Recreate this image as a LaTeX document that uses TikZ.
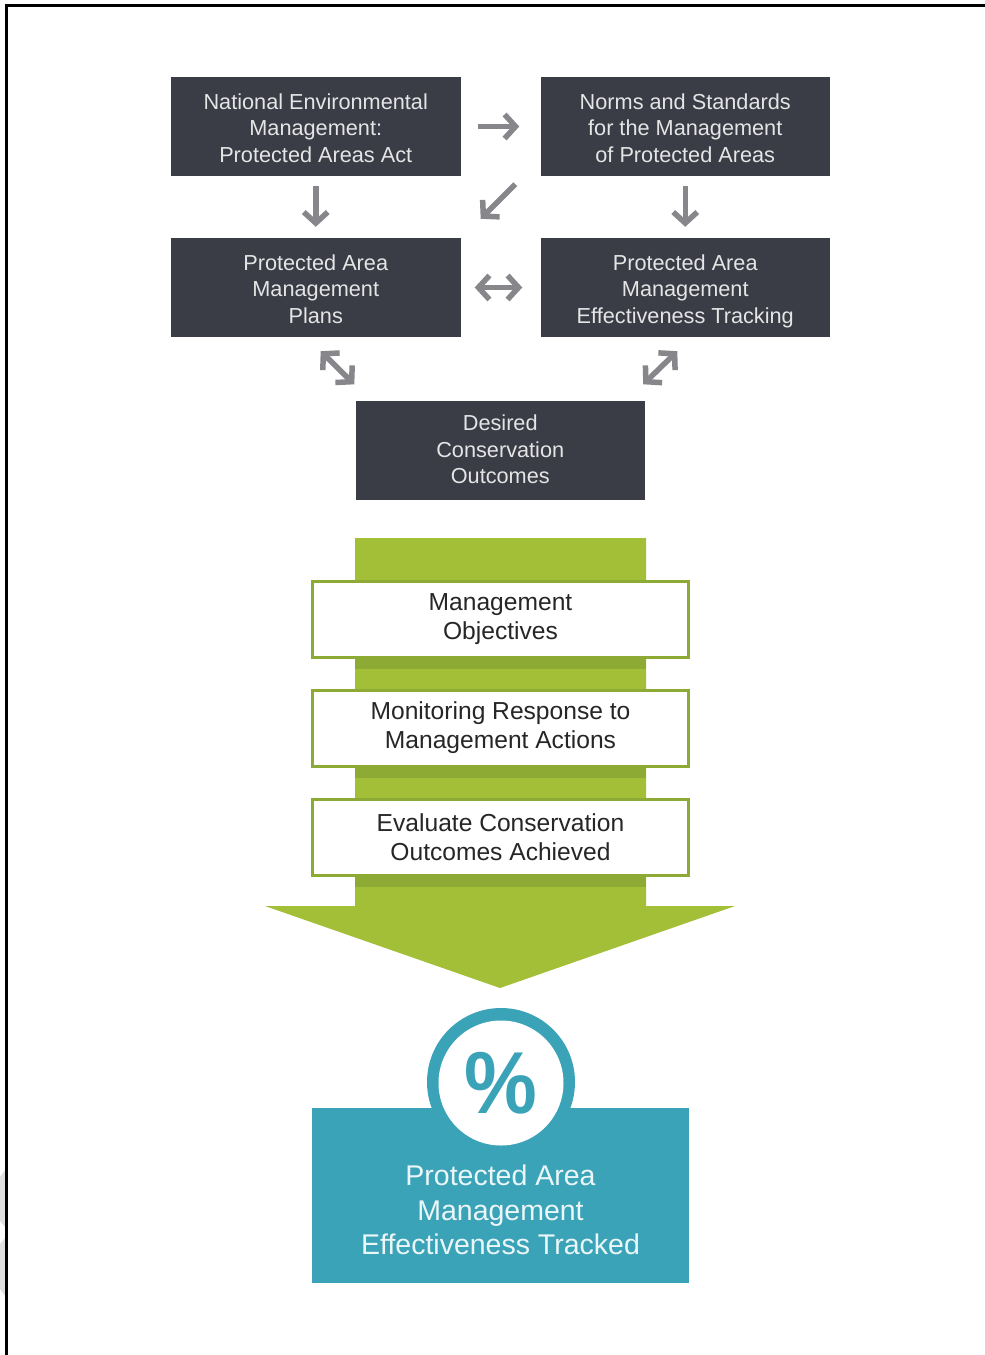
\documentclass[tikz,border=0pt]{standalone}
\usepackage{fontspec}
\setmainfont{Liberation Sans}
\usetikzlibrary{arrows.meta}
\definecolor{darkbox}{HTML}{3A3C46}
\definecolor{arrowgrey}{HTML}{87878B}
\definecolor{leaf}{HTML}{A3BF37}
\definecolor{leafdark}{HTML}{8DAA35}
\definecolor{teal}{HTML}{3BA3B8}
\newcommand{\lineprop}{\vphantom{Ágp}}
\newcommand{\toplow}{\rule{0pt}{1.06em}\lineprop}
\newcommand{\botlift}{\rule[-0.42em]{0pt}{0pt}\lineprop}
\tikzset{
  x=1pt,y=-1pt,
  darknode/.style={fill=darkbox,text=white!90!black,inner sep=0pt,minimum width=289.5pt,minimum height=99pt,align=center,font=\fontsize{21.7}{26.5}\selectfont},
  greennode/.style={fill=white,draw=leafdark,line width=3.5pt,text=black!85,inner sep=0pt,minimum width=376pt,minimum height=76pt,align=center,font=\fontsize{24.6}{29}\selectfont},
  flow/.style={draw=arrowgrey,line width=5.5pt,-{Straight Barb[length=11pt,width=24pt]}},
  flowboth/.style={draw=arrowgrey,line width=5.5pt,{Straight Barb[length=11pt,width=24pt]}-{Straight Barb[length=11pt,width=24pt]}},
}
\begin{document}
\begin{tikzpicture}
\useasboundingbox (0,0) rectangle (985,1355);
\fill[white] (0,0) rectangle (985,1355);
% scan edge
\fill[black!12] (5,1170) -- (0,1177) -- (0,1221) -- (5,1227) -- cycle;
\fill[black!12] (5,1238) -- (0,1244) -- (0,1289) -- (5,1296) -- cycle;
\draw[black,line width=3pt] (6.5,1355) -- (6.5,5.5) -- (985,5.5);
% dark boxes
\node[darknode] (nema) at (315.75,126.5) {\toplow National Environmental\\Management:\\\lineprop Protected Areas Act};
\node[darknode] (norms) at (685.25,126.5) {\toplow Norms and Standards\\for the Management\\\lineprop of Protected Areas};
\node[darknode] (plans) at (315.75,287.5) {\toplow Protected Area\\Management\\\lineprop Plans};
\node[darknode] (track) at (685.25,287.5) {\toplow Protected Area\\Management\\\lineprop Effectiveness Tracking};
\node[darknode] (desired) at (500.25,450) {\lineprop Desired\\Conservation\\\lineprop Outcomes};
% grey arrows
\draw[flow,shorten <=10pt,shorten >=11pt] (nema.south) -- (plans.north);
\draw[flow,shorten <=10pt,shorten >=11pt] (norms.south) -- (track.north);
\draw[flow,shorten <=17pt,shorten >=21pt] (nema.east) -- (norms.west);
\draw[flow] ([shift={(-25,8)}]norms.south west) -- ([shift={(20,-19)}]plans.north east);
\draw[flowboth,shorten <=14pt,shorten >=18pt] (plans.east) -- (track.west);
\draw[flowboth] ([shift={(-140,14)}]plans.south east) -- ([shift={(-1,-16)}]desired.north west);
\draw[flowboth] ([shift={(137,14)}]track.south west) -- ([shift={(-2,-16)}]desired.north east);
% green arrow
\fill[leaf] (355,538) -- (646,538) -- (646,906) -- (735,906) -- (500,988) -- (265,906) -- (355,906) -- cycle;
\fill[leafdark] (355,659) rectangle (646,669);
\fill[leafdark] (355,768) rectangle (646,778);
\fill[leafdark] (355,877) rectangle (646,887);
\node[greennode] (obj) at (500.5,619.5) {\lineprop Management\\\botlift Objectives};
\node[greennode] (mon) at (500.5,728.5) {\lineprop Monitoring Response to\\\botlift Management Actions};
\node[greennode] (eval) at (500.5,837.5) {\lineprop Evaluate Conservation\\\rule[-0.2em]{0pt}{0pt}\lineprop Outcomes Achieved};
% teal result
\fill[teal] (312,1108) rectangle (689,1283);
\node[fill=teal,circle,minimum size=148pt,inner sep=0pt] (ring) at (501,1082) {};
\node[fill=white,circle,minimum size=125pt,inner sep=0pt] (pct) at (501,1083) {};
\node[text=teal,inner sep=0pt,xscale=0.93,font=\fontsize{88}{88}\bfseries\selectfont] (pctsign) at (500.5,1083) {\%};
\node[text=white!90!teal,align=center,inner sep=0pt,font=\fontsize{28.5}{34.5}\selectfont] (done) at (500.5,1210) {Protected Area\\Management\\Effectiveness Tracked};
\end{tikzpicture}
\end{document}
